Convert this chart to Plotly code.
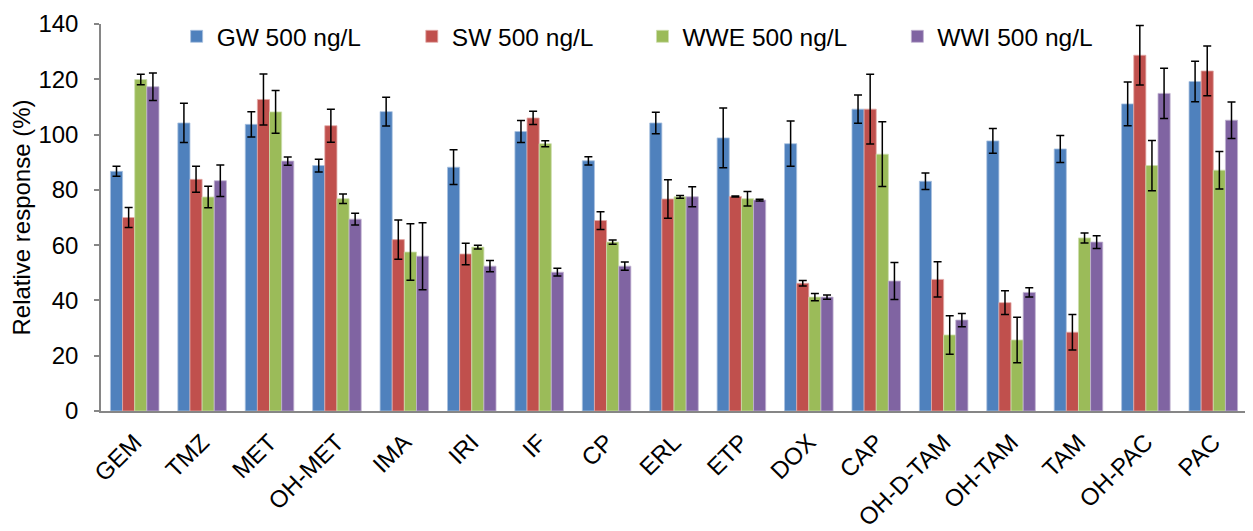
import plotly.graph_objects as go

categories = ["GEM", "TMZ", "MET", "OH-MET", "IMA", "IRI", "IF", "CP", "ERL", "ETP",
              "DOX", "CAP", "OH-D-TAM", "OH-TAM", "TAM", "OH-PAC", "PAC"]

gw = [86.7, 104.2, 103.7, 88.8, 108.3, 88.2, 101.1, 90.5, 104.2, 98.8,
      96.7, 109.2, 83.1, 97.7, 94.8, 111.1, 119.2]
gw_err = [1.8, 7.1, 4.6, 2.3, 5.2, 6.3, 4.0, 1.5, 3.9, 10.8,
          8.2, 5.1, 3.0, 4.5, 4.9, 7.9, 7.3]

sw = [70.0, 83.8, 112.7, 103.2, 62.0, 56.8, 106.0, 68.9, 76.7, 77.6,
      46.2, 109.2, 47.6, 39.2, 28.5, 128.7, 123.0]
sw_err = [3.6, 4.7, 9.2, 6.0, 7.1, 3.9, 2.4, 3.2, 7.0, 0.2,
          1.0, 12.6, 6.4, 4.3, 6.4, 10.8, 9.0]

wwe = [119.9, 77.4, 108.2, 76.8, 57.5, 59.3, 96.7, 61.1, 77.5, 76.8,
       41.2, 92.9, 27.5, 25.7, 62.6, 88.8, 87.1]
wwe_err = [1.9, 3.9, 7.7, 1.7, 10.2, 0.7, 1.1, 0.8, 0.5, 2.6,
           1.3, 11.7, 7.0, 8.2, 1.8, 9.1, 6.8]

wwi = [117.3, 83.3, 90.4, 69.4, 56.0, 52.4, 50.2, 52.4, 77.5, 76.3,
       41.2, 47.0, 32.9, 42.9, 61.1, 114.9, 105.2]
wwi_err = [5.0, 5.7, 1.5, 2.1, 12.1, 2.0, 1.4, 1.5, 3.6, 0.3,
           0.8, 6.7, 2.4, 1.7, 2.3, 9.1, 6.6]

series_names = ["GW 500 ng/L", "SW 500 ng/L", "WWE 500 ng/L", "WWI 500 ng/L"]
series_vals = [gw, sw, wwe, wwi]
series_errs = [gw_err, sw_err, wwe_err, wwi_err]
colors = ["#4F81BD", "#C0504D", "#9BBB59", "#8064A2"]
edge_colors = ["#A9C1DF", "#E2A9A7", "#CDDEAD", "#C0B2D1"]
legend_ids = ["legend", "legend2", "legend3", "legend4"]
legend_x = [0.066, 0.2712, 0.4725, 0.6949]

font_family = "Liberation Sans, Arial, sans-serif"

fig = go.Figure()
for name, vals, errs, col, ecol, lid in zip(series_names, series_vals, series_errs,
                                            colors, edge_colors, legend_ids):
    fig.add_trace(go.Bar(
        x=categories, y=vals, name=name,
        marker=dict(color=col, line=dict(width=0.8, color=ecol)),
        error_y=dict(type="data", array=errs, visible=True,
                     color="#000000", thickness=1.5, width=4),
        legend=lid,
    ))

layout_legends = {}
for lid, lx in zip(legend_ids, legend_x):
    layout_legends[lid] = dict(
        x=lx, y=0.968, xanchor="left", yanchor="middle",
        orientation="h", bgcolor="rgba(0,0,0,0)",
        font=dict(size=24.5, family=font_family, color="#000000"),
        itemwidth=30,
    )

# page body has an 8px default margin, so the figure is 8px smaller
fig.update_layout(
    width=1245, height=523,
    margin=dict(l=93, r=6, t=11, b=120),
    paper_bgcolor="white", plot_bgcolor="white",
    barmode="group", bargap=0.28, bargroupgap=0,
    font=dict(family=font_family, size=24, color="#000000"),
    showlegend=True,
    **layout_legends,
)

fig.update_xaxes(
    automargin=False,
    showline=True, linecolor="#868686", linewidth=1.5,
    showgrid=False, ticks="", tickangle=-45, ticklabelstandoff=6,
    ticklabeloverflow="allow",
    tickfont=dict(size=24, family=font_family, color="#000000"),
    zeroline=False,
)
fig.update_yaxes(
    automargin=False,
    range=[0, 140], dtick=20, showline=True, linecolor="#868686", linewidth=1.5,
    showgrid=False, ticks="outside", ticklen=5, tickcolor="#868686", tickwidth=1.5,
    ticklabelstandoff=11, ticklabeloverflow="allow",
    tickfont=dict(size=24, family=font_family, color="#000000"),
    title=dict(text="Relative response (%)", font=dict(size=24, family=font_family), standoff=3),
    zeroline=False,
)

fig.write_html("out.html")
